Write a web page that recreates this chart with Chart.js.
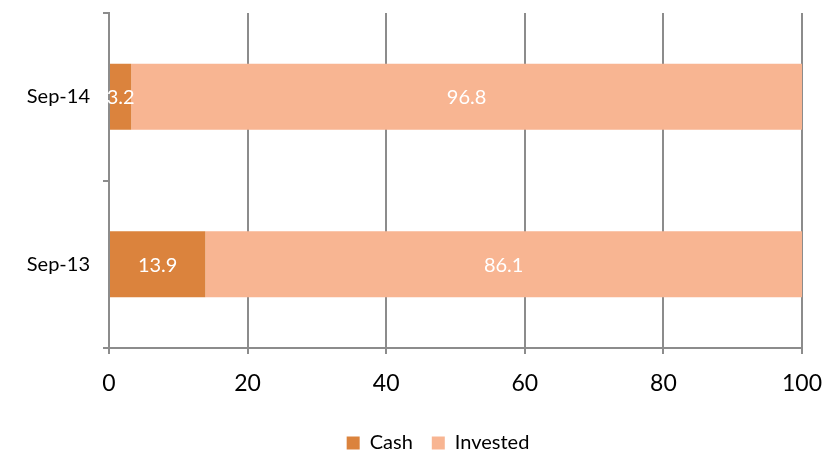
<!DOCTYPE html>
<html>
<head>
<meta charset="utf-8">
<script src="https://cdn.jsdelivr.net/npm/chart.js@4"></script>
<style>
  body { margin: 0; background: #fff; }
  #wrap { width: 840px; height: 450px; }
</style>
</head>
<body>
<div id="wrap"><canvas id="chart" width="840" height="450"></canvas></div>
<script>
const periods = ["Sep-14", "Sep-13"];
const cash = [3.2, 13.9];
const invested = [96.8, 86.1];
const xTicks = [0, 20, 40, 60, 80, 100];

const FONT = "Lato, 'Open Sans', sans-serif";
const GRID = "#8c8c8c";

// writes each segment's value in the middle of the segment
const segmentLabels = {
  id: "segmentLabels",
  afterDatasetsDraw(chart) {
    const ctx = chart.ctx;
    ctx.save();
    ctx.fillStyle = "#fff";
    ctx.font = "20px " + FONT;
    ctx.textAlign = "center";
    ctx.textBaseline = "middle";
    chart.data.datasets.forEach((ds, i) => {
      chart.getDatasetMeta(i).data.forEach((bar, j) => {
        const p = bar.getProps(["x", "y", "base"], true);
        ctx.fillText(ds.data[j].toFixed(1), (p.x + p.base) / 2, p.y + 1);
      });
    });
    ctx.restore();
  }
};

// nudge the legend right so it sits a bit more under the bars
const legendShift = {
  id: "legendShift",
  afterLayout(chart) {
    chart.legend.left += 37;
    chart.legend.right += 37;
  }
};

new Chart(document.getElementById("chart"), {
  type: "bar",
  data: {
    labels: periods,
    datasets: [
      { label: "Cash", data: cash, backgroundColor: "#db833d", barPercentage: 0.395, categoryPercentage: 1 },
      { label: "Invested", data: invested, backgroundColor: "#f8b592", barPercentage: 0.395, categoryPercentage: 1 }
    ]
  },
  options: {
    indexAxis: "y",
    responsive: false,
    animation: false,
    layout: { padding: { top: 13, right: 38, left: 0, bottom: -13 } },
    scales: {
      x: {
        stacked: true,
        min: 0,
        max: 100,
        afterBuildTicks(scale) { scale.ticks = xTicks.map(v => ({ value: v })); },
        afterFit(scale) { scale.height = 66; },
        grid: { color: GRID, lineWidth: 2, tickLength: 6 },
        border: { color: GRID, width: 2 },
        ticks: { color: "#000", font: { family: FONT, size: 23 }, padding: 16 }
      },
      y: {
        stacked: true,
        afterFit(scale) {
          scale.width = 109;
          scale.paddingTop = 0;
          scale.paddingBottom = 0;
        },
        grid: { drawOnChartArea: false, color: GRID, lineWidth: 2, tickLength: 6 },
        border: { color: GRID, width: 2 },
        ticks: { color: "#000", font: { family: FONT, size: 20 }, padding: 13 }
      }
    },
    plugins: {
      legend: {
        position: "bottom",
        labels: {
          color: "#000",
          font: { family: FONT, size: 20 },
          boxWidth: 13,
          boxHeight: 13,
          padding: 19,
          useBorderRadius: false
        }
      },
      tooltip: { enabled: false }
    }
  },
  plugins: [segmentLabels, legendShift]
});
</script>
</body>
</html>
